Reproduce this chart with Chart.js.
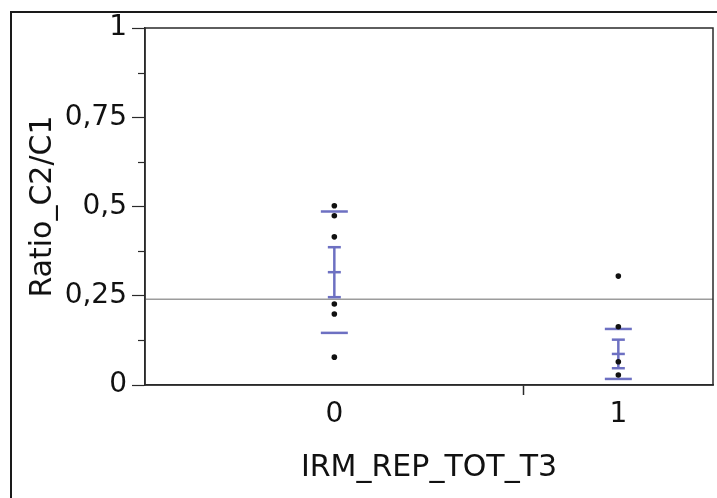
<!DOCTYPE html>
<html>
<head>
<meta charset="utf-8">
<script src="https://cdn.jsdelivr.net/npm/chart.js@4/dist/chart.umd.min.js"></script>
<style>
  html, body { margin: 0; padding: 0; background: #ffffff; }
  #wrap { position: relative; width: 717px; height: 498px; }
</style>
</head>
<body>
<div id="wrap"><canvas id="c" width="717" height="498"></canvas></div>
<script>
// ---- data ----
const categories = ['0', '1'];
const groupWeights = [2, 1];            // relative widths of the groups on the x axis
const group0Values = [0.502, 0.474, 0.415, 0.227, 0.199, 0.078];
const group1Values = [0.305, 0.163, 0.065, 0.028];
const groupMeans = [0.316, 0.087];
const groupSE = [0.070, 0.040];
const groupSD = [0.170, 0.070];
const grandMean = 0.240;
const yMajorTicks = [0, 0.25, 0.5, 0.75, 1];
const yTickLabels = ['0', '0,25', '0,5', '0,75', '1'];
const yMinorTicks = [0.125, 0.375, 0.625, 0.875];
const xTitle = 'IRM_REP_TOT_T3';
const yTitle = 'Ratio_C2/C1';

// ---- derived helpers (from data) ----
const totalWeight = groupWeights.reduce((a, b) => a + b, 0);
const centers = [];
const boundaries = [];
let acc = 0;
groupWeights.forEach((w, i) => {
  centers.push(acc + w / 2);
  acc += w;
  if (i < groupWeights.length - 1) boundaries.push(acc);
});
const groupValues = [group0Values, group1Values];

const BLUE = '#6d70c2';
const datasets = [];

groupValues.forEach((vals, g) => {
  datasets.push({
    type: 'scatter',
    data: vals.map(v => ({ x: centers[g], y: v })),
    pointRadius: 2.8,
    pointBackgroundColor: '#111',
    pointBorderWidth: 0,
    order: 0
  });
});
groupMeans.forEach((m, g) => {
  datasets.push({
    type: 'scatter',
    data: [m - groupSE[g], m, m + groupSE[g]].map(v => ({ x: centers[g], y: v })),
    pointStyle: 'line',
    pointRadius: 6.5,
    borderColor: BLUE,
    pointBorderColor: BLUE,
    pointBorderWidth: 2.5,
    order: 1
  });
  datasets.push({
    type: 'scatter',
    data: [m - groupSD[g], m + groupSD[g]].map(v => ({ x: centers[g], y: v })),
    pointStyle: 'line',
    pointRadius: 13.5,
    borderColor: BLUE,
    pointBorderColor: BLUE,
    pointBorderWidth: 2.5,
    order: 1
  });
  datasets.push({
    type: 'line',
    data: [m - groupSE[g], m + groupSE[g]].map(v => ({ x: centers[g], y: v })),
    borderColor: BLUE,
    borderWidth: 2.5,
    pointRadius: 0,
    order: 2
  });
});
datasets.push({
  type: 'line',
  data: [{ x: 0, y: grandMean }, { x: totalWeight, y: grandMean }],
  borderColor: '#9c9c9c',
  borderWidth: 1.5,
  pointRadius: 0,
  order: 5
});

const framePlugin = {
  id: 'framePlugin',
  afterDraw(chart) {
    const ctx = chart.ctx;
    const a = chart.chartArea;
    const y = chart.scales.y;
    ctx.save();
    ctx.strokeStyle = '#2a2a2a';
    ctx.lineWidth = 1.5;
    ctx.strokeRect(a.left, a.top, a.right - a.left, a.bottom - a.top);
    ctx.lineWidth = 1.2;
    yMinorTicks.forEach(v => {
      const py = Math.round(y.getPixelForValue(v)) + 0.5;
      ctx.beginPath();
      ctx.moveTo(a.left - 7, py);
      ctx.lineTo(a.left, py);
      ctx.stroke();
    });
    ctx.strokeStyle = '#1a1a1a';
    ctx.lineWidth = 2;
    ctx.beginPath();
    ctx.moveTo(11, chart.height);
    ctx.lineTo(11, 12);
    ctx.lineTo(chart.width, 12);
    ctx.stroke();
    ctx.restore();
  }
};

Chart.defaults.font.family = '"DejaVu Sans", sans-serif';
Chart.defaults.color = '#111';

new Chart(document.getElementById('c'), {
  type: 'scatter',
  data: { datasets },
  options: {
    responsive: false,
    animation: false,
    layout: { autoPadding: false, padding: { top: 28, right: 4, left: 0, bottom: 0 } },
    plugins: { legend: { display: false }, tooltip: { enabled: false } },
    scales: {
      x: {
        type: 'linear',
        min: 0,
        max: totalWeight,
        afterBuildTicks: s => {
          s.ticks = centers.concat(boundaries).sort((p, q) => p - q).map(v => ({ value: v }));
        },
        afterFit: s => { s.height = 113; s.paddingLeft = 0; s.paddingRight = 0; },
        ticks: {
          autoSkip: false,
          maxRotation: 0,
          padding: 3,
          font: { size: 28 },
          color: '#111',
          callback: v => {
            const i = centers.indexOf(v);
            return i >= 0 ? categories[i] : '';
          }
        },
        grid: {
          drawOnChartArea: false,
          tickLength: 10,
          tickWidth: 1.5,
          tickColor: c => (c.tick && boundaries.includes(c.tick.value)) ? '#2a2a2a' : 'rgba(0,0,0,0)'
        },
        border: { color: '#2a2a2a', width: 1.5 },
        title: {
          display: true,
          text: xTitle,
          font: { size: 30 },
          color: '#111',
          padding: { top: 0, bottom: 12 }
        }
      },
      y: {
        min: 0,
        max: 1,
        afterBuildTicks: s => { s.ticks = yMajorTicks.map(v => ({ value: v })); },
        afterFit: s => { s.width = 145; },
        ticks: {
          padding: 5,
          font: { size: 28 },
          color: '#111',
          callback: v => {
            const i = yMajorTicks.indexOf(v);
            return i >= 0 ? yTickLabels[i] : '';
          }
        },
        grid: {
          drawOnChartArea: false,
          tickLength: 13,
          tickWidth: 1.2,
          tickColor: '#2a2a2a'
        },
        border: { color: '#2a2a2a', width: 1.5 },
        title: {
          display: true,
          text: yTitle,
          font: { size: 30 },
          color: '#111',
          padding: { top: 25, bottom: 0 }
        }
      }
    }
  },
  plugins: [framePlugin]
});
</script>
</body>
</html>
